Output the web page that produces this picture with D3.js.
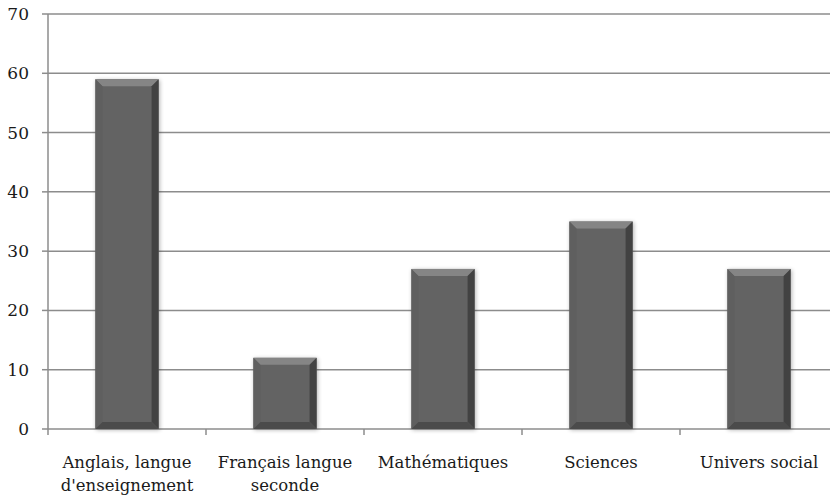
<!DOCTYPE html>
<html>
<head>
<meta charset="utf-8">
<script src="https://d3js.org/d3.v7.min.js"></script>
<style>
body { margin: 0; background: #fff; }
</style>
</head>
<body>
<script>
// data
const categories = [["Anglais, langue", "d'enseignement"], ["Français langue", "seconde"], ["Mathématiques"], ["Sciences"], ["Univers social"]];
const values = [59, 12, 27, 35, 27];
const yTicks = [0, 10, 20, 30, 40, 50, 60, 70];

const width = 830, height = 496;
const mLeft = 48, mRight = 838, mTop = 14, mBottom = 429;
const fontFam = "'DejaVu Serif', 'Liberation Serif', serif";

const svg = d3.select("body").append("svg")
    .attr("width", width)
    .attr("height", height);

const x = d3.scaleBand().domain(d3.range(values.length)).range([mLeft, mRight]).paddingInner(0.6).paddingOuter(0.3);
const xb = d3.scaleBand().domain(d3.range(values.length)).range([mLeft, mRight]);
const y = d3.scaleLinear().domain([0, 70]).range([mBottom, mTop]);

// gridlines
svg.selectAll(".grid").data(yTicks).enter().append("line")
    .attr("x1", mLeft).attr("x2", width)
    .attr("y1", d => y(d)).attr("y2", d => y(d))
    .attr("stroke", "#8c8c8c").attr("stroke-width", 1.5);

// y ticks and labels
svg.selectAll(".yt").data(yTicks).enter().append("line")
    .attr("x1", mLeft - 6).attr("x2", mLeft)
    .attr("y1", d => y(d)).attr("y2", d => y(d))
    .attr("stroke", "#8c8c8c").attr("stroke-width", 1.5);
svg.selectAll(".yl").data(yTicks).enter().append("text")
    .attr("x", 29).attr("y", d => y(d) + 6)
    .attr("text-anchor", "end")
    .attr("font-family", fontFam).attr("font-size", 17).attr("fill", "#1a1a1a")
    .text(d => d);

// axes lines
svg.append("line").attr("x1", mLeft).attr("x2", mLeft).attr("y1", mTop).attr("y2", mBottom)
    .attr("stroke", "#8c8c8c").attr("stroke-width", 1.5);
svg.selectAll(".xt").data(d3.range(values.length + 1)).enter().append("line")
    .attr("x1", d => mLeft + d * xb.bandwidth()).attr("x2", d => mLeft + d * xb.bandwidth())
    .attr("y1", mBottom).attr("y2", mBottom + 6)
    .attr("stroke", "#8c8c8c").attr("stroke-width", 1.5);

// shadow filter
const defs = svg.append("defs");
const f = defs.append("filter").attr("id", "sh").attr("x", "-20%").attr("y", "-10%").attr("width", "140%").attr("height", "120%");
f.append("feGaussianBlur").attr("in", "SourceAlpha").attr("stdDeviation", 2);
f.append("feOffset").attr("dx", 1).attr("dy", 1).attr("result", "b");
f.append("feComponentTransfer").append("feFuncA").attr("type", "linear").attr("slope", 0.3);
const m = f.append("feMerge");
m.append("feMergeNode");
m.append("feMergeNode").attr("in", "SourceGraphic");

// bars with bevel
const bv = 7;
const bars = svg.selectAll(".bar").data(values).enter().append("g")
    .attr("filter", "url(#sh)");
bars.each(function (d, i) {
    const g = d3.select(this);
    const x0 = x(i), x1 = x(i) + x.bandwidth(), y0 = y(d), y1 = y(0);
    g.append("rect").attr("x", x0).attr("y", y0).attr("width", x1 - x0).attr("height", y1 - y0).attr("fill", "#646464");
    const poly = (pts, c) => g.append("polygon").attr("points", pts.map(p => p.join(",")).join(" ")).attr("fill", c);
    poly([[x0, y0], [x1, y0], [x1 - bv, y0 + bv], [x0 + bv, y0 + bv]], "#858585");
    poly([[x0, y0], [x0 + bv, y0 + bv], [x0 + bv, y1 - bv], [x0, y1]], "#5e5e5e");
    poly([[x1, y0], [x1, y1], [x1 - bv, y1 - bv], [x1 - bv, y0 + bv]], "#424242");
    poly([[x0, y1], [x0 + bv, y1 - bv], [x1 - bv, y1 - bv], [x1, y1]], "#4c4c4c");
});

// category labels
svg.selectAll(".cl").data(categories).enter().append("text")
    .attr("x", (d, i) => xb(i) + xb.bandwidth() / 2)
    .attr("y", 468)
    .attr("text-anchor", "middle")
    .attr("font-family", fontFam).attr("font-size", 16.5).attr("fill", "#1a1a1a")
    .each(function (d) {
        d3.select(this).selectAll("tspan").data(d).enter().append("tspan")
            .attr("x", d3.select(this).attr("x"))
            .attr("dy", (t, j) => j === 0 ? 0 : 23)
            .text(t => t);
    });
</script>
</body>
</html>
